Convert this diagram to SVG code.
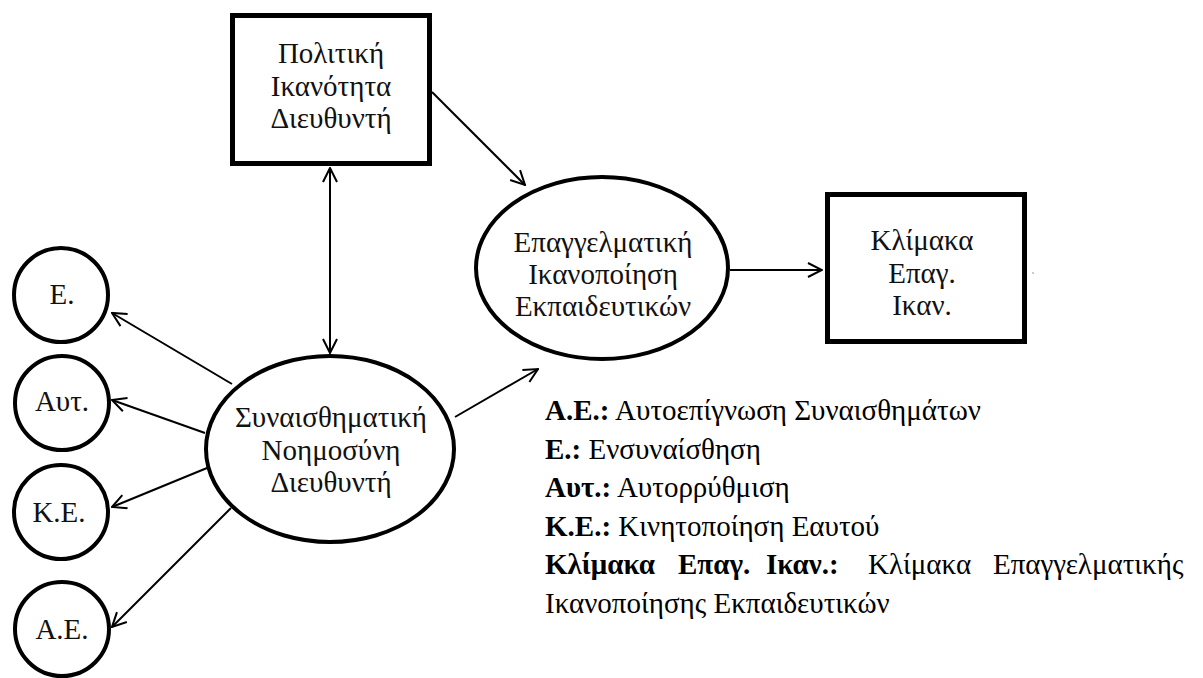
<svg xmlns="http://www.w3.org/2000/svg" width="1203" height="678" viewBox="0 0 1203 678">
  <style>
    .box { fill: #fff; stroke: #000; stroke-width: 5; }
    .oval { fill: #fff; stroke: #000; stroke-width: 4; }
    .edge { fill: none; stroke: #000; stroke-width: 2; }
    .lbl { font-family: "Liberation Serif", "Times New Roman", serif; font-size: 29px; fill: #111; text-anchor: middle; }
    .legend { font-family: "Liberation Serif", "Times New Roman", serif; font-size: 29px; fill: #000; }
    .legend .b { font-weight: bold; }
  </style>
  <defs>
    <marker id="arrow" viewBox="0 0 16 16" refX="15" refY="8" markerWidth="16" markerHeight="16" orient="auto-start-reverse" markerUnits="userSpaceOnUse">
      <path d="M1,1 L15,8 L1,15" fill="none" stroke="#000" stroke-width="2"/>
    </marker>
  </defs>
  <rect width="1203" height="678" fill="#fff"/>

  <!-- connectors -->
  <g id="connectors">
    <line class="edge" x1="432" y1="92" x2="525" y2="185" marker-end="url(#arrow)"/>
    <line class="edge" x1="330" y1="168" x2="330" y2="353" marker-start="url(#arrow)" marker-end="url(#arrow)"/>
    <line class="edge" x1="455" y1="417" x2="538" y2="369" marker-end="url(#arrow)"/>
    <line class="edge" x1="730" y1="270" x2="822" y2="270" marker-end="url(#arrow)"/>
    <line class="edge" x1="232" y1="384" x2="112" y2="313" marker-end="url(#arrow)"/>
    <line class="edge" x1="205" y1="433" x2="112" y2="400" marker-end="url(#arrow)"/>
    <line class="edge" x1="207" y1="468" x2="112" y2="507" marker-end="url(#arrow)"/>
    <line class="edge" x1="231" y1="508" x2="112" y2="627" marker-end="url(#arrow)"/>
  </g>

  <g id="political">
    <rect class="box" x="232.5" y="15.5" width="197" height="148"/>
    <text class="lbl" x="331" y="63">Πολιτική</text>
    <text class="lbl" x="331" y="96">Ικανότητα</text>
    <text class="lbl" x="331" y="128">Διευθυντή</text>
  </g>

  <g id="satisfaction">
    <ellipse class="oval" cx="602" cy="268" rx="126" ry="91"/>
    <text class="lbl" x="603" y="252">Επαγγελματική</text>
    <text class="lbl" x="603" y="284">Ικανοποίηση</text>
    <text class="lbl" x="603" y="316">Εκπαιδευτικών</text>
  </g>

  <g id="scale">
    <rect class="box" x="827.5" y="194.5" width="197" height="147"/>
    <text class="lbl" x="922" y="250">Κλίμακα</text>
    <text class="lbl" x="922" y="283">Επαγ.</text>
    <text class="lbl" x="922" y="315">Ικαν.</text>
  </g>
  <circle cx="1033" cy="273" r="0.8" fill="#888"/>

  <g id="emotional">
    <ellipse class="oval" cx="330" cy="449" rx="124" ry="93"/>
    <text class="lbl" x="331" y="427">Συναισθηματική</text>
    <text class="lbl" x="331" y="460">Νοημοσύνη</text>
    <text class="lbl" x="331" y="492">Διευθυντή</text>
  </g>

  <g id="empathy">
    <circle class="oval" cx="61" cy="295" r="47"/>
    <text class="lbl" x="62" y="304">Ε.</text>
  </g>
  <g id="selfreg">
    <circle class="oval" cx="62" cy="403" r="47"/>
    <text class="lbl" x="62" y="411">Αυτ.</text>
  </g>
  <g id="motivation">
    <circle class="oval" cx="61" cy="512" r="47"/>
    <text class="lbl" x="59" y="522">Κ.Ε.</text>
  </g>
  <g id="awareness">
    <circle class="oval" cx="62" cy="629" r="47"/>
    <text class="lbl" x="62" y="639">Α.Ε.</text>
  </g>

  <g id="legend" class="legend">
    <text x="545" y="420"><tspan class="b">Α.Ε.:</tspan> Αυτοεπίγνωση Συναισθημάτων</text>
    <text x="545" y="458.5"><tspan class="b">Ε.:</tspan> Ενσυναίσθηση</text>
    <text x="545" y="497"><tspan class="b">Αυτ.:</tspan> Αυτορρύθμιση</text>
    <text x="545" y="535.5"><tspan class="b">Κ.Ε.:</tspan> Κινητοποίηση Εαυτού</text>
    <text y="574"><tspan class="b" x="545">Κλίμακα</tspan><tspan class="b" x="678">Επαγ.</tspan><tspan class="b" x="766">Ικαν.:</tspan><tspan x="868">Κλίμακα</tspan><tspan x="993">Επαγγελματικής</tspan></text>
    <text x="545" y="612.5">Ικανοποίησης Εκπαιδευτικών</text>
  </g>
</svg>
